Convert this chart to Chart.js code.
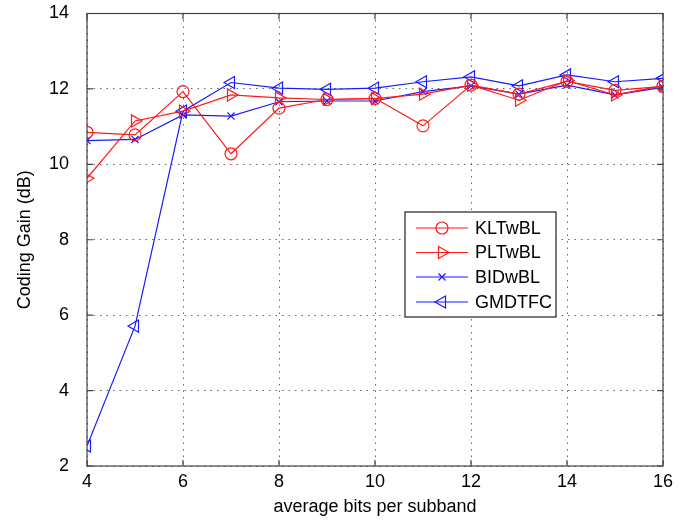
<!DOCTYPE html>
<html>
<head>
<meta charset="utf-8">
<script src="https://cdn.jsdelivr.net/npm/chart.js@4.4.1/dist/chart.umd.min.js"></script>
<style>
  html, body { margin: 0; padding: 0; background: #fff; }
  #wrap { width: 686px; height: 522px; }
</style>
</head>
<body>
<div id="wrap"><canvas id="gainChart"></canvas></div>
<script>
// average bits per subband
const bits = [4, 5, 6, 7, 8, 9, 10, 11, 12, 13, 14, 15, 16];

const kltwbl = [10.85, 10.78, 11.93, 10.28, 11.49, 11.72, 11.75, 11.02, 12.1, 11.86, 12.2, 11.96, 12.07];
const pltwbl = [9.63, 11.15, 11.41, 11.84, 11.76, 11.72, 11.74, 11.86, 12.1, 11.7, 12.22, 11.84, 12.08];
const bidwbl = [10.63, 10.66, 11.31, 11.28, 11.66, 11.68, 11.68, 11.93, 12.08, 11.86, 12.1, 11.84, 12.04];
const gmdtfc = [2.53, 5.71, 11.41, 12.17, 12.02, 11.99, 12.02, 12.19, 12.32, 12.08, 12.37, 12.19, 12.28];

const yTicks = [2, 4, 6, 8, 10, 12, 14];
const xTicks = [4, 6, 8, 10, 12, 14, 16];

const RED = '#ff1a1a';
const BLUE = '#1a1aff';
const FONT = "'Liberation Sans', Arial, sans-serif";

function pts(vals) {
  return bits.map((b, i) => ({ x: b, y: vals[i] }));
}

function series(label, vals, color, style, rotation, radius) {
  return {
    label: label,
    data: pts(vals),
    borderColor: color,
    backgroundColor: 'rgba(0,0,0,0)',
    borderWidth: 1.2,
    pointStyle: style,
    pointRotation: rotation,
    pointRadius: radius,
    pointBorderColor: color,
    pointBackgroundColor: 'rgba(0,0,0,0)',
    pointBorderWidth: 1.2,
    tension: 0
  };
}

// frame + inward ticks like matlab
const framePlugin = {
  id: 'frame',
  afterDraw(chart) {
    const { ctx, chartArea: a, scales } = chart;
    ctx.save();
    ctx.strokeStyle = '#444';
    ctx.lineWidth = 1.2;
    ctx.strokeRect(a.left, a.top, a.right - a.left, a.bottom - a.top);
    ctx.beginPath();
    xTicks.forEach(v => {
      const px = scales.x.getPixelForValue(v);
      ctx.moveTo(px, a.bottom); ctx.lineTo(px, a.bottom - 6);
      ctx.moveTo(px, a.top); ctx.lineTo(px, a.top + 6);
    });
    yTicks.forEach(v => {
      const py = scales.y.getPixelForValue(v);
      ctx.moveTo(a.left, py); ctx.lineTo(a.left + 6, py);
      ctx.moveTo(a.right, py); ctx.lineTo(a.right - 6, py);
    });
    ctx.stroke();
    ctx.restore();
  }
};

// boxed legend sitting inside the axes
const boxLegend = {
  id: 'boxLegend',
  afterDraw(chart) {
    const ctx = chart.ctx;
    const x0 = 405, y0 = 212, w = 151, h = 105;
    ctx.save();
    ctx.fillStyle = '#fff';
    ctx.fillRect(x0, y0, w, h);
    ctx.strokeStyle = '#222';
    ctx.lineWidth = 1.2;
    ctx.strokeRect(x0, y0, w, h);
    const rows = [228, 252.5, 277, 302];
    chart.data.datasets.forEach((ds, i) => {
      const y = rows[i];
      ctx.strokeStyle = ds.borderColor;
      ctx.fillStyle = 'rgba(0,0,0,0)';
      ctx.lineWidth = 1.2;
      ctx.beginPath();
      ctx.moveTo(416, y); ctx.lineTo(468, y);
      ctx.stroke();
      Chart.helpers.drawPoint(ctx, {
        pointStyle: ds.pointStyle,
        rotation: ds.pointRotation,
        radius: ds.pointRadius,
        borderWidth: 1.2
      }, 442, y);
      ctx.fillStyle = '#000';
      ctx.font = '18px ' + FONT;
      ctx.textBaseline = 'middle';
      ctx.fillText(ds.label, 475, y + 1);
    });
    ctx.restore();
  }
};

new Chart(document.getElementById('gainChart'), {
  type: 'line',
  data: {
    datasets: [
      series('KLTwBL', kltwbl, RED, 'circle', 0, 6),
      series('PLTwBL', pltwbl, RED, 'triangle', 90, 7),
      series('BIDwBL', bidwbl, BLUE, 'crossRot', 0, 5),
      series('GMDTFC', gmdtfc, BLUE, 'triangle', -90, 7)
    ]
  },
  options: {
    responsive: true,
    maintainAspectRatio: false,
    animation: false,
    layout: { padding: { left: 14, right: 23, top: 13.5, bottom: 4 } },
    plugins: {
      legend: { display: false },
      tooltip: { enabled: false }
    },
    scales: {
      x: {
        type: 'linear',
        min: 4,
        max: 16,
        afterBuildTicks: s => { s.ticks = xTicks.map(v => ({ value: v })); },
        ticks: { color: '#000', font: { family: FONT, size: 18 }, padding: 0, maxRotation: 0 },
        grid: { color: '#666', drawTicks: true, tickLength: 5, tickColor: 'rgba(0,0,0,0)', lineWidth: 1 },
        border: { display: false, dash: [1.5, 5] },
        title: { display: true, text: 'average bits per subband', color: '#000', font: { family: FONT, size: 18 }, padding: { top: 0, bottom: 0 } },
        afterFit: s => { s.height = 52; }
      },
      y: {
        type: 'linear',
        min: 2,
        max: 14,
        afterBuildTicks: s => { s.ticks = yTicks.map(v => ({ value: v })); },
        ticks: { color: '#000', font: { family: FONT, size: 18 }, padding: 0 },
        grid: { color: '#666', drawTicks: true, tickLength: 18, tickColor: 'rgba(0,0,0,0)', lineWidth: 1 },
        border: { display: false, dash: [1.5, 5] },
        title: { display: true, text: 'Coding Gain (dB)', color: '#000', font: { family: FONT, size: 18 }, padding: { top: 0, bottom: 0 } },
        afterFit: s => { s.width = 73; }
      }
    }
  },
  plugins: [framePlugin, boxLegend]
});
</script>
</body>
</html>
